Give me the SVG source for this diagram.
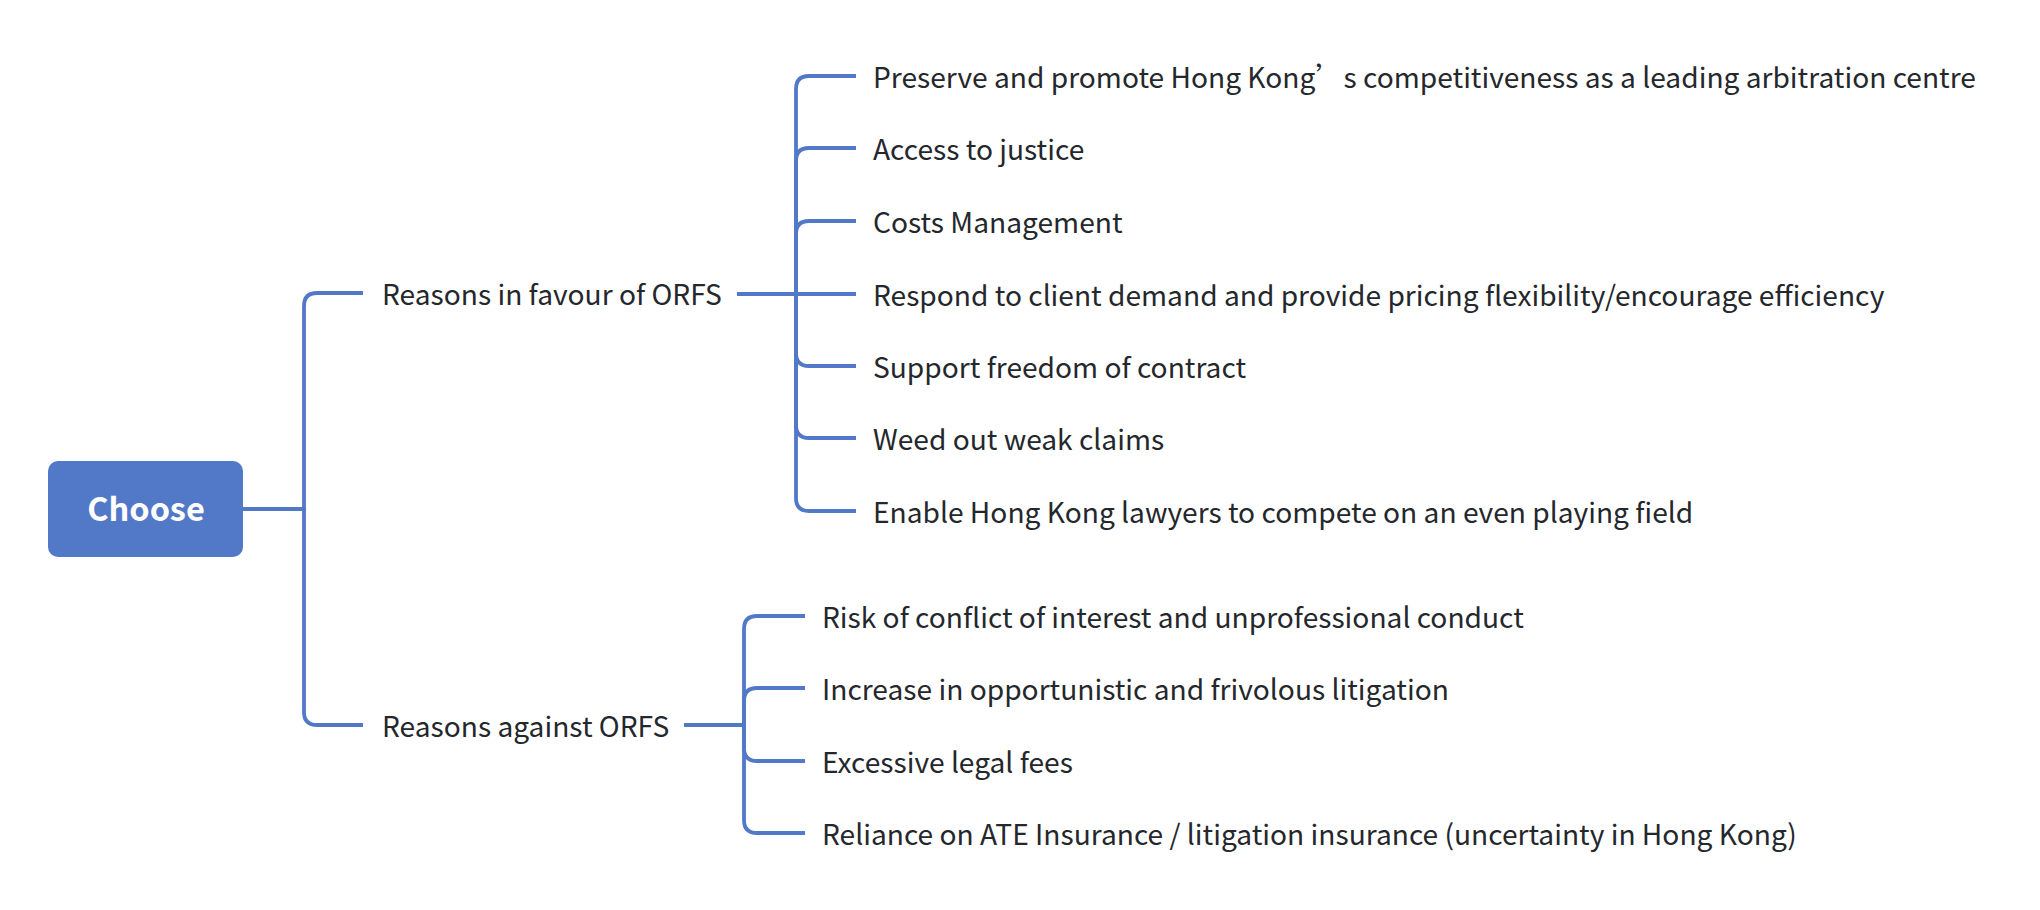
<svg xmlns="http://www.w3.org/2000/svg" width="2040" height="910" viewBox="0 0 2040 910">
<style>
.ln{fill:none;stroke:#5279c7;stroke-width:3.8;stroke-linecap:butt}
.t{font-family:"Noto Sans CJK SC","Noto Sans",sans-serif;font-size:28.15px;fill:#24272c}
.root{font-family:"Noto Sans CJK SC","Noto Sans",sans-serif;font-size:32.5px;font-weight:bold;fill:#ffffff}
</style>
<rect width="2040" height="910" fill="#ffffff"/>
<g id="connectors">
<path class="ln" d="M243 509 H304 V306 Q304 293 317 293 H363"/>
<path class="ln" d="M243 509 H304 V712 Q304 725 317 725 H363"/>
<path class="ln" d="M737 294 H796 V89 Q796 76 809 76 H856"/>
<path class="ln" d="M737 294 H796 V161 Q796 148 809 148 H856"/>
<path class="ln" d="M737 294 H796 V234 Q796 221 809 221 H856"/>
<path class="ln" d="M737 294 H856"/>
<path class="ln" d="M737 294 H796 V353 Q796 366 809 366 H856"/>
<path class="ln" d="M737 294 H796 V425 Q796 438 809 438 H856"/>
<path class="ln" d="M737 294 H796 V498 Q796 511 809 511 H856"/>
<path class="ln" d="M684 725 H744 V629 Q744 616 757 616 H805"/>
<path class="ln" d="M684 725 H744 V701 Q744 688 757 688 H805"/>
<path class="ln" d="M684 725 H744 V748 Q744 761 757 761 H805"/>
<path class="ln" d="M684 725 H744 V820 Q744 833 757 833 H805"/>
</g>
<g id="node-root">
<rect x="48" y="461" width="195" height="96" rx="10" fill="#5279c7"/>
<text class="root" x="146" y="521" text-anchor="middle">Choose</text>
</g>
<g id="node-favour"><text class="t" x="382" y="305">Reasons in favour of ORFS</text></g>
<g id="node-against"><text class="t" x="382" y="737">Reasons against ORFS</text></g>
<g id="node-f1"><text class="t" x="873" y="88">Preserve and promote Hong Kong’s competitiveness as a leading arbitration centre</text></g>
<g id="node-f2"><text class="t" x="873" y="160">Access to justice</text></g>
<g id="node-f3"><text class="t" x="873" y="233">Costs Management</text></g>
<g id="node-f4"><text class="t" x="873" y="306">Respond to client demand and provide pricing flexibility/encourage efficiency</text></g>
<g id="node-f5"><text class="t" x="873" y="378">Support freedom of contract</text></g>
<g id="node-f6"><text class="t" x="873" y="450">Weed out weak claims</text></g>
<g id="node-f7"><text class="t" x="873" y="523">Enable Hong Kong lawyers to compete on an even playing field</text></g>
<g id="node-a1"><text class="t" x="822" y="628">Risk of conflict of interest and unprofessional conduct</text></g>
<g id="node-a2"><text class="t" x="822" y="700">Increase in opportunistic and frivolous litigation</text></g>
<g id="node-a3"><text class="t" x="822" y="773">Excessive legal fees</text></g>
<g id="node-a4"><text class="t" x="822" y="845">Reliance on ATE Insurance / litigation insurance (uncertainty in Hong Kong)</text></g>
</svg>
